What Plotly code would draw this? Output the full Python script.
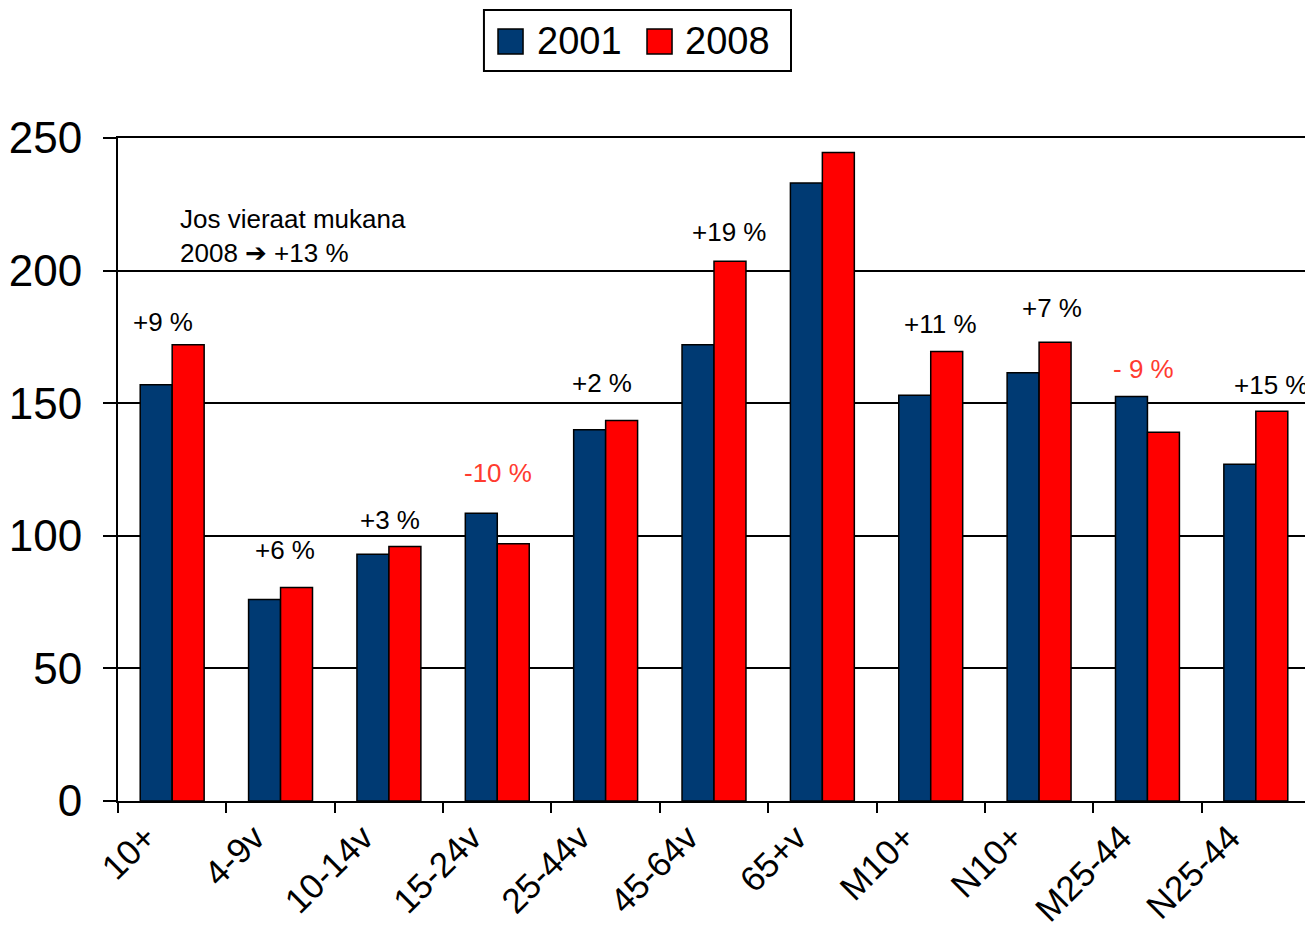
import plotly.graph_objects as go

categories = ["10+", "4-9v", "10-14v", "15-24v", "25-44v", "45-64v", "65+v",
              "M10+", "N10+", "M25-44", "N25-44"]
values_2001 = [157, 76, 93, 108.5, 140, 172, 233, 153, 161.5, 152.5, 127]
values_2008 = [172, 80.5, 96, 97, 143.5, 203.5, 244.5, 169.5, 173, 139, 147]
change_labels = ["+9 %", "+6 %", "+3 %", "-10 %", "+2 %", "+19 %", "+5 %",
                 "+11 %", "+7 %", "- 9 %", "+15 %"]
change_negative = [False, False, False, True, False, False, False,
                   False, False, True, False]
series_names = ["2001", "2008"]
series_colors = ["#003a73", "#ff0000"]

# label placement (text positions only)
label_y = [180.5, 94.5, 106, 123.5, 157.5, 214.5, 254, 180, 186, 163, 157]
label_dx = [-9, 4, 1, 1, -4, 15, 20, 10, 13, -4, 15]

FONT = "Liberation Sans, Arial, DejaVu Sans, sans-serif"

fig = go.Figure()
for name, vals, col in zip(series_names, [values_2001, values_2008], series_colors):
    fig.add_trace(go.Bar(
        x=categories, y=vals, name=name,
        marker=dict(color=col, line=dict(color="black", width=1.5)),
    ))

for i, cat in enumerate(categories):
    fig.add_annotation(
        x=cat, y=label_y[i], text=change_labels[i], showarrow=False,
        xshift=label_dx[i], yanchor="middle",
        font=dict(size=26, color="#ff3b2f" if change_negative[i] else "black", family=FONT),
    )

fig.add_annotation(
    xref="paper", x=0.05, y=226, yanchor="top", xanchor="left", align="left",
    text="Jos vieraat mukana<br>2008 \u2794 +13 %", showarrow=False,
    font=dict(size=26, color="black", family=FONT),
)

# legend drawn as a boxed row at the top
fig.add_shape(type="rect", xref="paper", yref="paper", x0=0.307, x1=0.5646,
              y0=1.101, y1=1.193, line=dict(color="black", width=2), fillcolor="white")
legend_sq_x = [0.3188, 0.4438]
legend_txt_x = [0.3498, 0.474]
for name, col, sx, tx in zip(series_names, series_colors, legend_sq_x, legend_txt_x):
    fig.add_shape(type="rect", xref="paper", yref="paper", x0=sx, x1=sx + 0.021,
                  y0=1.1267, y1=1.1644, line=dict(color="black", width=1.5), fillcolor=col)
    fig.add_annotation(xref="paper", yref="paper", x=tx, y=1.1463, xanchor="left",
                       yanchor="middle", text=name, showarrow=False,
                       font=dict(size=38, color="black", family=FONT))

fig.update_layout(
    width=1305, height=923,
    margin=dict(l=110, r=3, t=130, b=130),
    paper_bgcolor="white", plot_bgcolor="white",
    font=dict(family=FONT, color="black"),
    barmode="group", bargap=0.41, bargroupgap=0,
    showlegend=False,
    xaxis=dict(
        type="category", tickson="boundaries", ticks="outside", ticklen=10,
        tickwidth=2, tickcolor="black", tickangle=-45,
        tickfont=dict(size=35), ticklabelshift=-26, ticklabelstandoff=0,
        showline=True, linecolor="black", linewidth=2, mirror=True,
        showgrid=False, automargin=False,
    ),
    yaxis=dict(
        range=[0, 250], tickvals=[0, 50, 100, 150, 200, 250],
        ticks="outside", ticklen=13, tickwidth=2, tickcolor="black",
        tickfont=dict(size=44), ticklabelstandoff=12,
        showline=True, linecolor="black", linewidth=2, mirror=True,
        showgrid=True, gridcolor="black", gridwidth=1.5,
        zeroline=False, automargin=False,
    ),
)

fig.write_html("out.html")
